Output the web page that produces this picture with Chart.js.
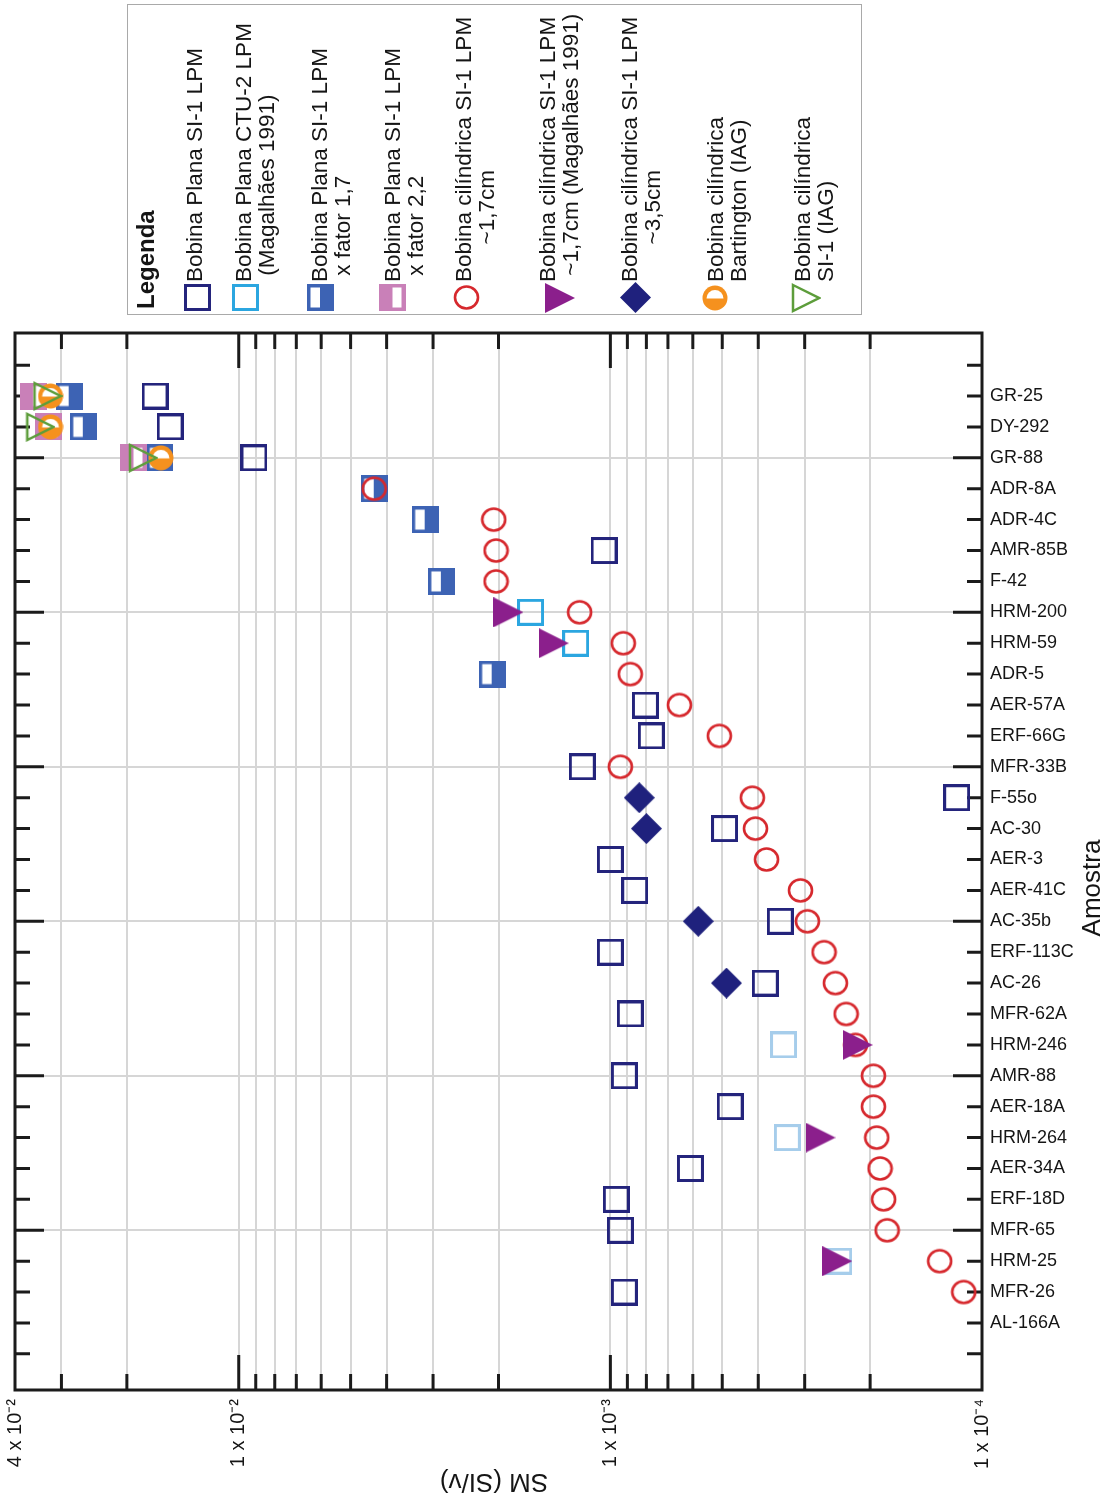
<!DOCTYPE html>
<html>
<head>
<meta charset="utf-8">
<script src="https://cdn.jsdelivr.net/npm/chart.js@4.4.1/dist/chart.umd.min.js"></script>
<style>
  html, body { margin: 0; padding: 0; background: #fff; }
  #wrap { position: relative; width: 1110px; height: 1500px; overflow: hidden; }
  #chart { position: absolute; left: 0; top: 0; }
  /* legend is laid out unrotated, then turned -90deg like the original figure */
  #legend {
    position: absolute; left: 339px; top: -208px; width: 311px; height: 735px;
    box-sizing: border-box; border: 1.5px solid #a9a9a9; background: #fff;
    transform: rotate(-90deg);
    font-family: "Liberation Sans", Arial, sans-serif; color: #151515;
  }
  #legend .title { position: absolute; left: 5px; top: 5px; font-size: 24px; font-weight: bold; line-height: 26px; }
  #legend .sym { position: absolute; transform: rotate(90deg); }
  #legend .txt { position: absolute; left: 32px; font-size: 22.5px; line-height: 23px; white-space: pre; }
</style>
</head>
<body>
<div id="wrap">
  <canvas id="chart" width="1110" height="1500"></canvas>
  <div id="legend"><div class="title">Legenda</div></div>
</div>
<script>
// samples, top to bottom
const samples = ['GR-25', 'DY-292', 'GR-88', 'ADR-8A', 'ADR-4C', 'AMR-85B', 'F-42', 'HRM-200',
  'HRM-59', 'ADR-5', 'AER-57A', 'ERF-66G', 'MFR-33B', 'F-55o', 'AC-30', 'AER-3', 'AER-41C',
  'AC-35b', 'ERF-113C', 'AC-26', 'MFR-62A', 'HRM-246', 'AMR-88', 'AER-18A', 'HRM-264',
  'AER-34A', 'ERF-18D', 'MFR-65', 'HRM-25', 'MFR-26', 'AL-166A'];

// SM (SI/v) readings, [sample, value]
const planaSI1 = [['GR-25', 1.68e-2], ['DY-292', 1.53e-2], ['GR-88', 9.1e-3], ['AMR-85B', 1.04e-3],
  ['AER-57A', 8.05e-4], ['ERF-66G', 7.76e-4], ['MFR-33B', 1.19e-3], ['F-55o', 1.17e-4],
  ['AC-30', 4.93e-4], ['AER-3', 1.0e-3], ['AER-41C', 8.6e-4], ['AC-35b', 3.49e-4],
  ['ERF-113C', 1.0e-3], ['AC-26', 3.83e-4], ['MFR-62A', 8.84e-4], ['AMR-88', 9.17e-4],
  ['AER-18A', 4.76e-4], ['AER-34A', 6.09e-4], ['ERF-18D', 9.64e-4], ['MFR-65', 9.4e-4],
  ['MFR-26', 9.17e-4]];
const planaCTU2 = [['HRM-200', 1.64e-3], ['HRM-59', 1.24e-3], ['HRM-246', 3.42e-4],
  ['HRM-264', 3.34e-4], ['HRM-25', 2.43e-4]];
const planaFator17 = [['GR-25', 2.86e-2], ['DY-292', 2.62e-2], ['GR-88', 1.63e-2], ['ADR-8A', 4.32e-3],
  ['ADR-4C', 3.15e-3], ['F-42', 2.85e-3], ['ADR-5', 2.08e-3]];
const planaFator22 = [['GR-25', 3.57e-2], ['DY-292', 3.25e-2], ['GR-88', 1.92e-2]];
const cilindrica17 = [['ADR-8A', 4.32e-3], ['ADR-4C', 2.06e-3], ['AMR-85B', 2.03e-3], ['F-42', 2.03e-3],
  ['HRM-200', 1.21e-3], ['HRM-59', 9.23e-4], ['ADR-5', 8.84e-4], ['AER-57A', 6.52e-4],
  ['ERF-66G', 5.09e-4], ['MFR-33B', 9.4e-4], ['F-55o', 4.15e-4], ['AC-30', 4.07e-4],
  ['AER-3', 3.8e-4], ['AER-41C', 3.08e-4], ['AC-35b', 2.95e-4], ['ERF-113C', 2.66e-4],
  ['AC-26', 2.48e-4], ['MFR-62A', 2.32e-4], ['HRM-246', 2.19e-4], ['AMR-88', 1.96e-4],
  ['AER-18A', 1.96e-4], ['HRM-264', 1.92e-4], ['AER-34A', 1.88e-4], ['ERF-18D', 1.84e-4],
  ['MFR-65', 1.8e-4], ['HRM-25', 1.3e-4], ['MFR-26', 1.12e-4]];
const cilindrica17Mag = [['HRM-200', 1.88e-3], ['HRM-59', 1.42e-3], ['HRM-246', 2.16e-4],
  ['HRM-264', 2.72e-4], ['HRM-25', 2.45e-4]];
const cilindrica35 = [['F-55o', 8.36e-4], ['AC-30', 8.0e-4], ['AC-35b', 5.8e-4], ['AC-26', 4.87e-4]];
const bartington = [['GR-25', 3.21e-2], ['DY-292', 3.21e-2], ['GR-88', 1.62e-2]];
const cilindricaIAG = [['GR-25', 3.27e-2], ['DY-292', 3.42e-2], ['GR-88', 1.81e-2]];

// x axis ticks (log, reversed) and their labels
const xTickValues = [4e-2, 3e-2, 2e-2, 1e-2, 9e-3, 8e-3, 7e-3, 6e-3, 5e-3, 4e-3, 3e-3, 2e-3,
  1e-3, 9e-4, 8e-4, 7e-4, 6e-4, 5e-4, 4e-4, 3e-4, 2e-4, 1e-4];
const xTickLabels = ['4 x 10⁻²', '', '', '1 x 10⁻²', '', '', '', '', '', '', '', '',
  '1 x 10⁻³', '', '', '', '', '', '', '', '', '1 x 10⁻⁴'];

const FONT = '"Liberation Sans", Arial, sans-serif';

// marker images
function marker(w, h, draw) {
  const c = document.createElement('canvas');
  c.width = w; c.height = h;
  draw(c.getContext('2d'));
  return c;
}
const openSquare = color => marker(27, 27, g => {
  g.strokeStyle = color; g.lineWidth = 3; g.strokeRect(1.5, 1.5, 24, 24);
});
const mk = {
  navy: openSquare('#24247c'),
  ctu: openSquare('#2ba6e0'),
  ctuPale: openSquare('#a6cdeb'),
  blueHalf: marker(27, 27, g => {
    g.fillStyle = '#3d63b4'; g.fillRect(0, 0, 27, 27);
    g.fillStyle = '#fff'; g.fillRect(3.5, 3.5, 9.5, 20);
  }),
  pinkHalf: marker(27, 27, g => {
    g.fillStyle = '#c980b8'; g.fillRect(0, 0, 27, 27);
    g.fillStyle = '#fff'; g.fillRect(13.5, 3.5, 9, 20);
  }),
  redCircle: marker(27, 27, g => {
    g.strokeStyle = '#d6282d'; g.lineWidth = 2.6;
    g.beginPath(); g.ellipse(13.5, 13.5, 11.5, 11, 0, 0, Math.PI * 2); g.stroke();
  }),
  purpleTri: marker(30, 30, g => {
    g.fillStyle = '#8b1f8c';
    g.beginPath(); g.moveTo(0, 0); g.lineTo(30, 15); g.lineTo(0, 30); g.closePath(); g.fill();
  }),
  diamond: marker(31, 31, g => {
    g.fillStyle = '#1f217d';
    g.beginPath(); g.moveTo(15.5, 0); g.lineTo(31, 15.5); g.lineTo(15.5, 31); g.lineTo(0, 15.5); g.closePath(); g.fill();
  }),
  orange: marker(26, 26, g => {
    g.fillStyle = '#f5911e';
    g.beginPath(); g.arc(13, 13, 12.5, 0, Math.PI * 2); g.fill();
    g.fillStyle = '#fff';
    g.beginPath(); g.arc(13, 13.5, 8.5, Math.PI, 0); g.closePath(); g.fill();
  }),
  greenTri: marker(30, 30, g => {
    g.strokeStyle = '#5d9d3b'; g.lineWidth = 2.5;
    g.beginPath(); g.moveTo(2, 2); g.lineTo(28, 15); g.lineTo(2, 28); g.closePath(); g.stroke();
  })
};

const series = [
  { lines: ['Bobina Plana SI-1 LPM'], data: planaSI1, marker: mk.navy },
  { lines: ['Bobina Plana CTU-2 LPM', ' (Magalhães 1991)'], data: planaCTU2,
    marker: c => (c.raw && c.raw.y > 20 ? mk.ctuPale : mk.ctu), legendMarker: mk.ctu },
  { lines: ['Bobina Plana SI-1 LPM', ' x fator 1,7'], data: planaFator17, marker: mk.blueHalf },
  { lines: ['Bobina Plana SI-1 LPM', ' x fator 2,2'], data: planaFator22, marker: mk.pinkHalf },
  { lines: ['Bobina cilíndrica SI-1 LPM', '      ~1,7cm'], data: cilindrica17, marker: mk.redCircle },
  { lines: ['Bobina cilíndrica SI-1 LPM', ' ~1,7cm (Magalhães 1991)'], data: cilindrica17Mag, marker: mk.purpleTri },
  { lines: ['Bobina cilíndrica SI-1 LPM', '      ~3,5cm'], data: cilindrica35, marker: mk.diamond },
  { lines: ['Bobina cilíndrica', 'Bartington (IAG)'], data: bartington, marker: mk.orange },
  { lines: ['Bobina cilíndrica', 'SI-1 (IAG)'], data: cilindricaIAG, marker: mk.greenTri }
];

const toPoints = pairs => pairs.map(([s, v]) => ({ x: v, y: samples.indexOf(s) }));

// inward tick marks, black frame and the two rotated axis titles
const framePlugin = {
  id: 'frame',
  beforeDatasetsDraw(chart) {
    const { ctx, chartArea: a, scales: { x, y } } = chart;
    ctx.save();
    ctx.strokeStyle = '#1b1b1b';
    ctx.lineWidth = 3;
    ctx.beginPath();
    xTickValues.forEach((v, i) => {
      const px = x.getPixelForValue(v);
      if (px < a.left + 2 || px > a.right - 2) return;
      const len = xTickLabels[i] ? 35 : 16;
      ctx.moveTo(px, a.bottom); ctx.lineTo(px, a.bottom - len);
      ctx.moveTo(px, a.top); ctx.lineTo(px, a.top + len);
    });
    y.ticks.forEach(t => {
      const py = y.getPixelForValue(t.value);
      const len = (t.value >= 0 && t.value < samples.length && t.value % 5 === 2) ? 29 : 15;
      ctx.moveTo(a.left, py); ctx.lineTo(a.left + len, py);
      ctx.moveTo(a.right, py); ctx.lineTo(a.right - len, py);
    });
    ctx.stroke();
    ctx.strokeRect(a.left, a.top, a.width, a.height);
    ctx.restore();
  },
  afterDraw(chart) {
    const ctx = chart.ctx;
    ctx.save();
    ctx.fillStyle = '#151515';
    ctx.font = '26px ' + FONT;
    ctx.textAlign = 'center';
    ctx.textBaseline = 'middle';
    ctx.translate(1093, 888);
    ctx.rotate(-Math.PI / 2);
    ctx.fillText('Amostra', 0, 0);
    ctx.restore();
    ctx.save();
    ctx.fillStyle = '#151515';
    ctx.font = '26px ' + FONT;
    ctx.textAlign = 'center';
    ctx.textBaseline = 'middle';
    ctx.translate(494, 1481);
    ctx.rotate(Math.PI);
    ctx.fillText('SM (SI/v)', 0, 0);
    ctx.restore();
  }
};

Chart.defaults.font.family = FONT;
Chart.defaults.color = '#151515';

new Chart(document.getElementById('chart'), {
  type: 'scatter',
  data: {
    datasets: series.map((s, i) => ({
      label: s.lines.map(l => l.trim()).join(' '),
      data: toPoints(s.data),
      pointStyle: s.marker,
      pointRadius: 12,
      order: series.length - i
    }))
  },
  options: {
    responsive: false,
    animation: false,
    layout: { padding: { top: 333, left: 15, right: 0, bottom: 0 } },
    plugins: { legend: { display: false }, tooltip: { enabled: false } },
    scales: {
      x: {
        type: 'logarithmic',
        reverse: true,
        min: 1e-4,
        max: 4e-2,
        afterBuildTicks: sc => { sc.ticks = xTickValues.map(v => ({ value: v })); },
        afterFit: sc => { sc.height = 110; },
        grid: { color: '#d6d6d6', lineWidth: 2, drawTicks: false },
        border: { display: false },
        ticks: {
          autoSkip: false, minRotation: 90, maxRotation: 90, padding: 9,
          font: { size: 20 },
          callback: v => {
            const i = xTickValues.indexOf(v);
            return i >= 0 ? xTickLabels[i] : '';
          }
        }
      },
      y: {
        type: 'linear',
        position: 'right',
        reverse: true,
        min: -2.04,
        max: 32.17,
        afterBuildTicks: sc => {
          const t = [];
          for (let i = -1; i <= samples.length; i++) t.push({ value: i });
          sc.ticks = t;
        },
        afterFit: sc => { sc.width = 128; },
        grid: {
          lineWidth: 2, drawTicks: false,
          color: c => (c.tick && c.tick.value >= 0 && c.tick.value < samples.length && c.tick.value % 5 === 2)
            ? '#d6d6d6' : 'rgba(0,0,0,0)'
        },
        border: { display: false },
        ticks: {
          autoSkip: false, padding: 8,
          font: { size: 18 },
          callback: v => samples[v] || ''
        }
      }
    }
  },
  plugins: [framePlugin]
});

// legend entries: final x of symbol and of first text line
const legendSymX = [198, 246, 321, 393, 467, 560, 636, 715, 806];
const legendTxtX = [195, 244, 320, 393, 464, 548, 630, 716, 803];
const legend = document.getElementById('legend');
series.forEach((s, i) => {
  const m = s.legendMarker || s.marker;
  const img = document.createElement('img');
  img.src = m.toDataURL();
  img.className = 'sym';
  img.style.left = (16 - m.width / 2) + 'px';
  img.style.top = (legendSymX[i] - 128.5 - m.height / 2) + 'px';
  legend.appendChild(img);
  const t = document.createElement('div');
  t.className = 'txt';
  t.textContent = s.lines.join('\n');
  t.style.top = (legendTxtX[i] - 128.5 - 11.5) + 'px';
  legend.appendChild(t);
});
</script>
</body>
</html>
